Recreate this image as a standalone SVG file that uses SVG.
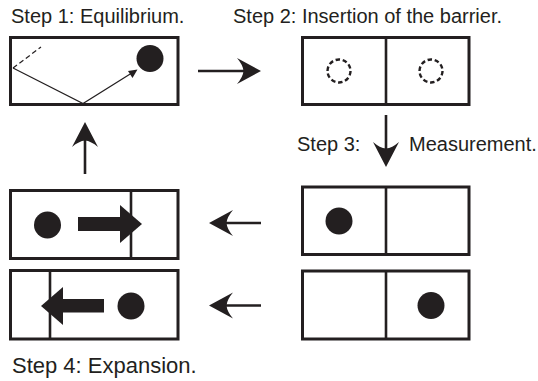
<svg xmlns="http://www.w3.org/2000/svg" width="538" height="381" viewBox="0 0 538 381">
<style>
.box{fill:#fff;stroke:#231f20;stroke-width:3}
.div{stroke:#231f20;stroke-width:2.6;fill:none}
.dot{fill:#231f20}
.dc{fill:none;stroke:#231f20;stroke-width:2.4;stroke-dasharray:4.5 2.7}
.lbl{font-family:"Liberation Sans",Arial,sans-serif;font-size:20px;fill:#231f20}
.con{stroke:#231f20;stroke-width:2.6;fill:none}
.head{fill:#231f20}
.thin{stroke:#231f20;stroke-width:1.2;fill:none}
</style>
<rect width="538" height="381" fill="#fff"/>
<g id="labels">
<text class="lbl" x="11" y="23">Step 1: Equilibrium.</text>
<text class="lbl" x="233" y="23">Step 2: Insertion of the barrier.</text>
<text class="lbl" x="297" y="151">Step 3:</text>
<text class="lbl" x="409" y="151">Measurement.</text>
<text class="lbl" x="12" y="373" style="font-size:22px">Step 4: Expansion.</text>
</g>
<g id="step1">
<rect class="box" x="10.5" y="37.5" width="167.5" height="67"/>
<circle class="dot" cx="150" cy="58.5" r="13.5"/>
<line class="thin" x1="13" y1="68" x2="41" y2="47" stroke-dasharray="5 3"/>
<polyline class="thin" points="13,68 83,103.5 131,73.5"/>
<polygon class="head" points="137.5,69.5 128,71 132.5,78"/>
</g>
<g id="step2">
<rect class="box" x="302.5" y="37.5" width="166.5" height="67"/>
<line class="div" x1="386" y1="37.5" x2="386" y2="104.5"/>
<circle class="dc" cx="339" cy="71" r="11.5"/>
<circle class="dc" cx="431" cy="71" r="11.5"/>
</g>
<g id="step3a">
<rect class="box" x="302.5" y="187" width="166.5" height="67.5"/>
<line class="div" x1="386" y1="187" x2="386" y2="254.5"/>
<circle class="dot" cx="339" cy="221" r="13.5"/>
</g>
<g id="step3b">
<rect class="box" x="302.5" y="271" width="166.5" height="68"/>
<line class="div" x1="386" y1="271" x2="386" y2="339"/>
<circle class="dot" cx="431" cy="305.5" r="13.5"/>
</g>
<g id="step4a">
<rect class="box" x="10.5" y="190.5" width="167.5" height="68"/>
<line class="div" x1="131" y1="190.5" x2="131" y2="258.5"/>
<circle class="dot" cx="47.5" cy="225" r="13.5"/>
<rect class="dot" x="78" y="217" width="43" height="14"/>
<polygon class="head" points="120,205 142,224 120,243"/>
</g>
<g id="step4b">
<rect class="box" x="10.5" y="270.5" width="167.5" height="68.5"/>
<line class="div" x1="50" y1="270.5" x2="50" y2="339"/>
<circle class="dot" cx="131" cy="306" r="13.5"/>
<rect class="dot" x="62" y="299" width="42" height="13.5"/>
<polygon class="head" points="63,287 41,306 63,325"/>
</g>
<g id="connectors">
<line class="con" x1="198" y1="71" x2="245" y2="71"/>
<path class="head" d="M261,71 L237,58 Q243,65 243.5,71 Q243,77 237,84 Z"/>
<line class="con" x1="386" y1="115" x2="386" y2="150"/>
<path class="head" d="M386,167 L373,142 Q380,148 386,148.5 Q392,148 399,142 Z"/>
<line class="con" x1="261" y1="223" x2="224" y2="223"/>
<path class="head" d="M209,223 L233,210 Q227,217 226.5,223 Q227,229 233,236 Z"/>
<line class="con" x1="261" y1="305.5" x2="224" y2="305.5"/>
<path class="head" d="M209,305.5 L233,292.5 Q227,299.5 226.5,305.5 Q227,311.5 233,318.5 Z"/>
<line class="con" x1="85" y1="174" x2="85" y2="139"/>
<path class="head" d="M85,122 L72,147 Q79,141 85,140.5 Q91,141 98,147 Z"/>
</g>
</svg>
